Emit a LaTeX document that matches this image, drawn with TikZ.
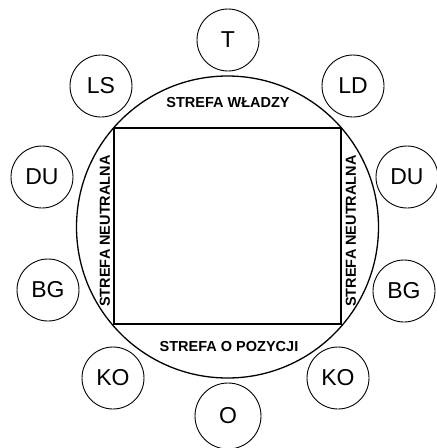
\documentclass[tikz,border=0pt]{standalone}
\usepackage{fontspec}
\setmainfont{Liberation Sans}
\begin{document}
\begin{tikzpicture}[x=1pt,y=-1pt,
  actor/.style={draw, circle, line width=0.9pt, minimum size=62pt, inner sep=0pt,
    font=\fontsize{23}{23}\selectfont},
  zone/.style={font=\bfseries\fontsize{14.5}{14.5}\selectfont, inner sep=0pt},
  edge/.style={line width=1.3pt}]
\useasboundingbox (0,0) rectangle (437,448);

% central square and the ring of zones around it
\node[draw, edge, minimum width=227pt, minimum height=196pt, inner sep=0pt] (core) at (227.5,226) {};
\node[draw, edge, circle, minimum size=302pt, inner sep=0pt] (ring) at (227.5,227) {};

% zone labels
\node[zone] (top) at (228,103) {STREFA WŁADZY};
\node[zone] (bottom) at (229,347) {STREFA O POZYCJI};
\node[zone, rotate=90] (left) at (105,231) {STREFA NEUTRALNA};
\node[zone, rotate=90] (right) at (351,231) {STREFA NEUTRALNA};

% surrounding actors
\node[actor] (t) at (228,40) {T};
\node[actor] (ls) at (101,86) {LS};
\node[actor] (ld) at (353,86) {LD};
\node[actor] (dul) at (42,177) {DU};
\node[actor] (bgl) at (48,290) {BG};
\node[actor] (dur) at (407,177) {DU};
\node[actor] (bgr) at (404,291) {BG};
\node[actor] (kol) at (113,378) {KO};
\node[actor] (kor) at (338,378) {KO};
\node[actor, minimum size=66pt] (o) at (228,416) {O};
\end{tikzpicture}
\end{document}
